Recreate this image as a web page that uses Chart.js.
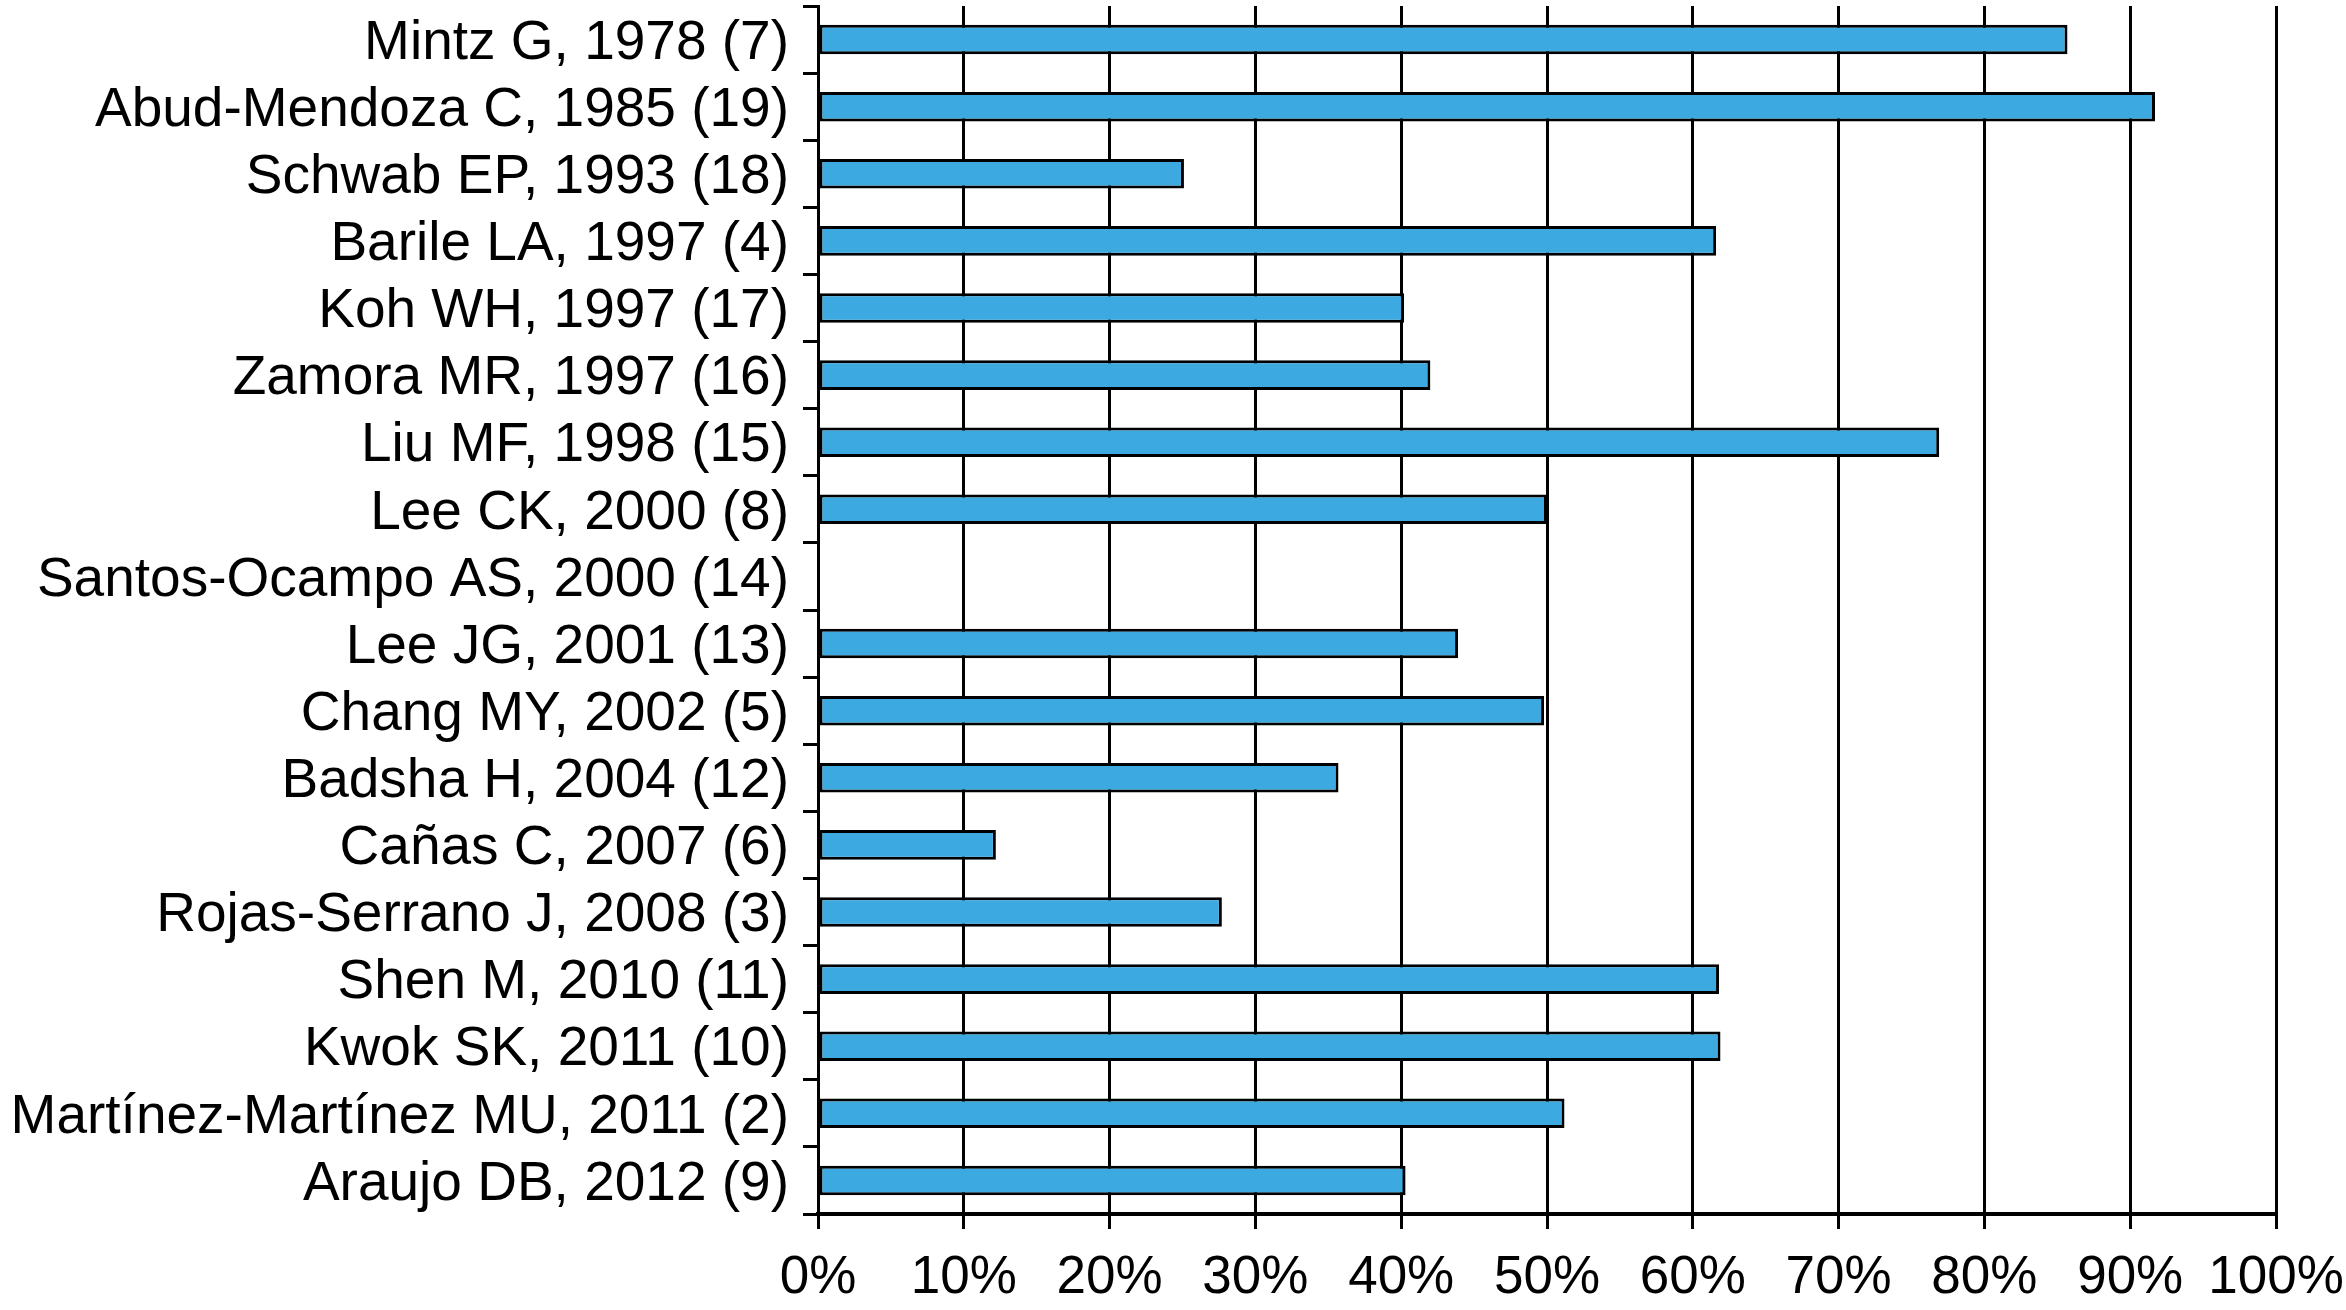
<!DOCTYPE html>
<html>
<head>
<meta charset="utf-8">
<script src="https://cdn.jsdelivr.net/npm/chart.js@4/dist/chart.umd.min.js"></script>
<style>
  html, body { margin: 0; padding: 0; background: #fff; }
  canvas { display: block; }
</style>
</head>
<body>
<canvas id="studyChart" width="2346" height="1310"></canvas>
<script>
// study labels, top to bottom
const studies = [
    'Mintz G, 1978 (7)',
    'Abud-Mendoza C, 1985 (19)',
    'Schwab EP, 1993 (18)',
    'Barile LA, 1997 (4)',
    'Koh WH, 1997 (17)',
    'Zamora MR, 1997 (16)',
    'Liu MF, 1998 (15)',
    'Lee CK, 2000 (8)',
    'Santos-Ocampo AS, 2000 (14)',
    'Lee JG, 2001 (13)',
    'Chang MY, 2002 (5)',
    'Badsha H, 2004 (12)',
    'Cañas C, 2007 (6)',
    'Rojas-Serrano J, 2008 (3)',
    'Shen M, 2010 (11)',
    'Kwok SK, 2011 (10)',
    'Martínez-Martínez MU, 2011 (2)',
    'Araujo DB, 2012 (9)'
];

// percent values
const percents = [85.7, 91.7, 25.1, 61.6, 40.2, 42.0, 76.9, 50.0, 0, 43.9, 49.8, 35.7, 12.2, 27.7, 61.8, 61.9, 51.2, 40.3];

const xTicks = [0, 10, 20, 30, 40, 50, 60, 70, 80, 90, 100];

const ctx = document.getElementById('studyChart').getContext('2d');

new Chart(ctx, {
    type: 'bar',
    data: {
        labels: studies,
        datasets: [
            {
                data: percents,
                backgroundColor: '#3ca9e0',
                borderColor: '#000',
                borderWidth: 3,
                borderSkipped: false,
                barPercentage: 0.44,
                categoryPercentage: 1.0
            }
        ]
    },
    options: {
        indexAxis: 'y',
        responsive: false,
        animation: false,
        devicePixelRatio: 1,
        layout: {
            padding: { top: 6, right: 70, left: 0, bottom: 0 }
        },
        plugins: {
            legend: { display: false },
            tooltip: { enabled: false }
        },
        scales: {
            x: {
                min: 0,
                max: 100,
                afterBuildTicks: function (scale) {
                    scale.ticks = xTicks.map(v => ({ value: v }));
                },
                afterFit: function (scale) {
                    scale.height = 96;
                    scale.paddingLeft = 0;
                    scale.paddingRight = 0;
                },
                ticks: {
                    color: '#000',
                    font: { family: 'Liberation Sans, Arial, sans-serif', size: 53 },
                    padding: 18,
                    maxRotation: 0,
                    callback: value => value + '%'
                },
                grid: {
                    color: '#000',
                    lineWidth: 3,
                    drawOnChartArea: true,
                    drawTicks: true,
                    tickLength: 15
                },
                border: { display: true, color: '#000', width: 4 }
            },
            y: {
                afterFit: function (scale) {
                    scale.width = 818;
                    scale.paddingTop = 0;
                    scale.paddingBottom = 0;
                },
                ticks: {
                    color: '#000',
                    font: { family: 'Liberation Sans, Arial, sans-serif', size: 55 },
                    padding: 14,
                    labelOffset: 4,
                    autoSkip: false
                },
                grid: {
                    color: '#000',
                    lineWidth: 3,
                    drawOnChartArea: false,
                    drawTicks: true,
                    tickLength: 15
                },
                border: { display: true, color: '#000', width: 3 }
            }
        }
    }
});
</script>
</body>
</html>
